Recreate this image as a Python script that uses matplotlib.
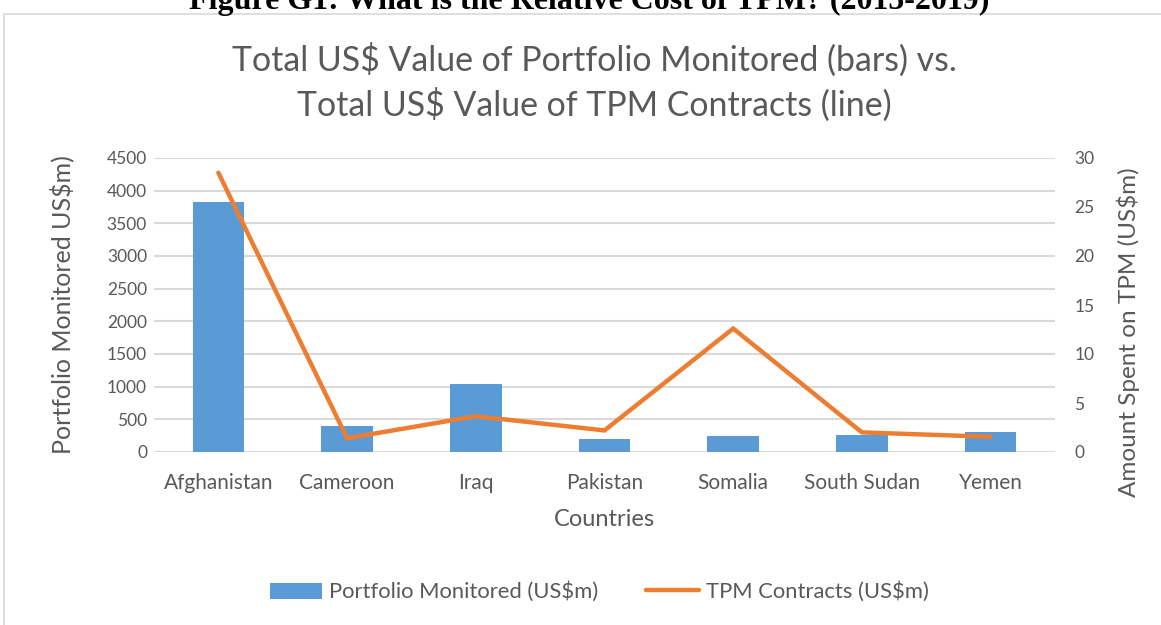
import matplotlib.pyplot as plt
import numpy as np
from matplotlib.patches import Rectangle

countries = ['Afghanistan', 'Cameroon', 'Iraq', 'Pakistan', 'Somalia', 'South Sudan', 'Yemen']
portfolio = [3820, 400, 1040, 195, 245, 262, 308]
tpm = [28.5, 1.4, 3.65, 2.2, 12.6, 2.0, 1.55]

left_ticks = list(range(0, 4501, 500))
right_ticks = list(range(0, 31, 5))

gray = '#595959'
blue = '#5B9BD5'
orange = '#ED7D31'
plt.rcParams['font.family'] = ['Lato', 'DejaVu Sans']

W, H = 1161, 625
fig = plt.figure(figsize=(W / 100, H / 100), dpi=100)

# chart frame (cropped by the page)
fig.patches.append(Rectangle((4 / W, -0.1), 1.2, 1 - 14 / H + 0.1, transform=fig.transFigure,
                             fill=False, edgecolor='#d9d9d9', linewidth=1.2))

# page caption, cut off at the top
fig.text(589 / W, 1 - 8.5 / H, 'Figure G1: What is the Relative Cost of TPM? (2015-2019)',
         ha='center', va='baseline', fontsize=23, fontweight='bold',
         family='Liberation Serif', color='black')

fig.text(594 / W, 1 - 60 / H, 'Total US$ Value of Portfolio Monitored (bars) vs.',
         ha='center', va='center', fontsize=24.4, color=gray)
fig.text(594 / W, 1 - 105 / H, 'Total US$ Value of TPM Contracts (line)',
         ha='center', va='center', fontsize=24.4, color=gray)

ax = fig.add_axes([154 / W, 1 - 452 / H, 901 / W, 294 / H])
x = np.arange(len(countries))
bars = ax.bar(x, portfolio, width=0.4, color=blue, zorder=2, label='Portfolio Monitored (US$m)')
ax.set_xlim(-0.5, len(countries) - 0.5)
ax.set_ylim(0, 4500)
ax.set_yticks(left_ticks)
ax.grid(axis='y', color='#d9d9d9', linewidth=1.5, zorder=0)
ax.set_axisbelow(True)
for s in ax.spines.values():
    s.set_visible(False)
ax.tick_params(length=0, labelsize=12.5, colors=gray, pad=5)
ax.set_xticks(x)
ax.set_xticklabels(countries)
ax.tick_params(axis='x', labelsize=15, pad=15)
ax.set_xlabel('Countries', fontsize=17, color=gray, labelpad=12)
ax.set_ylabel('Portfolio Monitored US$m)', fontsize=18, color=gray, va='center')
ax.yaxis.set_label_coords(-92 / 901, 0.5)

ax2 = ax.twinx()
line, = ax2.plot(x, tpm, color=orange, linewidth=3.2, solid_capstyle='round', solid_joinstyle='miter',
                 label='TPM Contracts (US$m)')
ax2.set_ylim(0, 30)
ax2.set_yticks(right_ticks)
for s in ax2.spines.values():
    s.set_visible(False)
ax2.tick_params(length=0, labelsize=12.5, colors=gray, pad=14)
ax2.set_ylabel('Amount Spent on TPM (US$m)', fontsize=17.5, color=gray, va='center')
ax2.yaxis.set_label_coords(1 + 73 / 901, (452 - 332) / 294)

fig.legend(handles=[bars, line], loc='center', bbox_to_anchor=(599 / W, 1 - 592 / H), ncol=2,
           frameon=False, fontsize=15.8, labelcolor=gray, handlelength=2.4, handleheight=0.75,
           handletextpad=0.3, columnspacing=2.2)

fig.savefig('out.png', dpi=100)
